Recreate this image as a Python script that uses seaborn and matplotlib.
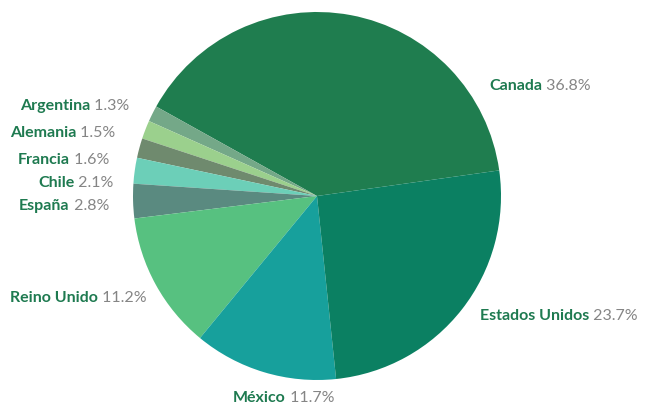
import matplotlib
matplotlib.use("Agg")
import matplotlib.pyplot as plt
import seaborn as sns

# data, in counter-clockwise order starting with Canada
countries = ['Canada', 'Argentina', 'Alemania', 'Francia', 'Chile',
             'España', 'Reino Unido', 'México', 'Estados Unidos']
shares = [36.8, 1.3, 1.5, 1.6, 2.1, 2.8, 11.2, 11.7, 23.7]

colors = ['#1f7d4f', '#74a888', '#9bd08d', '#6f8a6e', '#6ccfb8',
          '#5a8a80', '#57c180', '#17a09c', '#0b8062']

# label anchors (left edge, vertical centre) in image pixels
label_pos = {
    'Canada': (489, 86),
    'Argentina': (20, 106),
    'Alemania': (10, 133),
    'Francia': (18, 160),
    'Chile': (38, 183),
    'España': (19, 206),
    'Reino Unido': (10, 298),
    'México': (233, 398),
    'Estados Unidos': (480, 316),
}

sns.set_theme(style='white')
plt.rcParams['font.family'] = ['Lato', 'DejaVu Sans']

W, H = 648, 410
fig = plt.figure(figsize=(W / 100, H / 100), dpi=100)
ax = fig.add_axes([0, 0, 1, 1])

cx, cy, r = 317, 197, 184
ax.pie(shares, colors=colors, startangle=8, counterclock=True,
       wedgeprops=dict(linewidth=0))
ax.set_aspect('auto')
ax.set_xlim(-cx / r, (W - cx) / r)
ax.set_ylim(-(H - cy) / r, cy / r)
ax.axis('off')

for name, val in zip(countries, shares):
    px, py = label_pos[name]
    t = ax.annotate(name, xy=(px, H - py), xycoords='figure pixels',
                    ha='left', va='center', fontsize=11.5,
                    fontweight='bold', color='#1e7a50')
    ax.annotate(f' {val:.1f}%', xy=(1, 0), xycoords=t,
                ha='left', va='bottom', fontsize=11.5, color='#858585')

fig.savefig('out.png', dpi=100)
